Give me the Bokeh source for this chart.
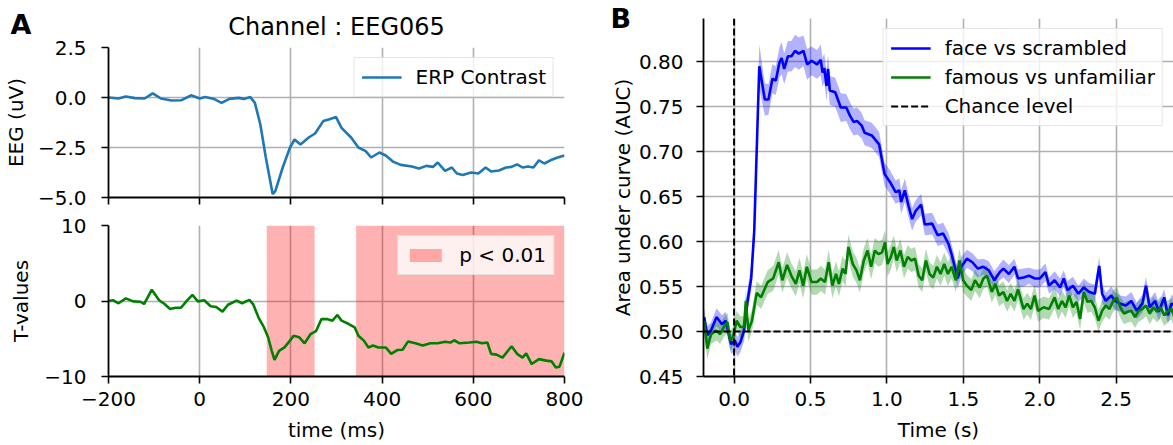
from bokeh.plotting import figure
from bokeh.layouts import row, column
from bokeh.models import (FixedTicker, CustomJSTickFormatter, Legend, LegendItem,
                          Label, Span, CustomLabelingPolicy)
from bokeh.embed import file_html
from bokeh.resources import INLINE

FONT = "DejaVu Sans"

# ---------------- Panel A data ----------------
erp_time = [-200, -178, -162, -142, -121, -103, -85, -62, -41, -19,
            0, 12, 32, 48, 65, 85, 97, 111, 121, 133,
            145, 160, 166, 182, 198, 208, 221, 239, 253, 271,
            283, 299, 311, 332, 348, 364, 376, 394, 408, 425,
            441, 465, 481, 497, 512, 522, 538, 553, 564, 577,
            595, 611, 627, 639, 656, 672, 684, 696, 708, 720,
            732, 744, 756, 769, 785, 800]
erp_values = [0.00, -0.05, 0.05, -0.03, -0.05, 0.21, -0.05, -0.15, -0.14, 0.11,
              -0.05, 0.02, -0.08, -0.27, -0.07, -0.02, -0.07, 0.02, -0.27, -1.35,
              -3.00, -4.83, -4.67, -3.50, -2.50, -2.10, -2.35, -2.00, -1.80, -1.18,
              -1.10, -0.98, -1.52, -2.00, -2.50, -2.68, -3.00, -2.75, -2.90, -3.22,
              -3.37, -3.45, -3.55, -3.42, -3.47, -3.25, -3.67, -3.50, -3.80, -3.87,
              -3.75, -3.80, -3.50, -3.70, -3.65, -3.50, -3.47, -3.34, -3.50, -3.45,
              -3.50, -3.14, -3.30, -3.14, -3.00, -2.90]

tval_time = [-200, -190, -178, -162, -146, -130, -122, -105, -89, -77,
             -65, -53, -41, -28, -16, -4, 10, 24, 36, 50,
             62, 81, 93, 109, 117, 129, 141, 150, 158, 164,
             174, 186, 198, 206, 218, 230, 243, 255, 267, 279,
             291, 302, 311, 327, 340, 348, 360, 370, 380, 392,
             408, 420, 433, 445, 457, 473, 489, 506, 522, 538,
             550, 558, 570, 591, 607, 619, 631, 639, 651, 664,
             684, 696, 708, 716, 728, 744, 760, 772, 781, 789,
             800]
tval_values = [0.0, 0.1, -0.3, 0.35, -0.05, -0.1, -0.4, 1.5, 0.1, -0.4,
               -1.05, -0.9, -0.9, 0.05, 0.8, -0.05, 0.1, -0.7, -0.8, -1.4,
               -0.5, 0.05, -0.3, 0.15, -0.4, -2.2, -3.5, -4.8, -6.6, -7.8,
               -6.6, -6.15, -5.25, -4.6, -4.8, -5.6, -4.4, -4.0, -2.4, -2.4,
               -2.6, -1.85, -2.6, -3.05, -3.5, -4.6, -5.25, -6.15, -5.9, -6.15,
               -6.15, -7.0, -6.5, -6.45, -5.35, -5.6, -5.9, -5.6, -5.6, -5.4,
               -5.5, -5.2, -5.6, -5.5, -5.4, -5.6, -5.5, -7.0, -7.1, -7.5,
               -6.0, -7.0, -7.5, -6.95, -8.35, -7.7, -7.9, -8.0, -8.8, -8.7,
               -6.85]

sig_starts = [147, 343]
sig_ends = [252, 800]

erp_xticks = [-200, 0, 200, 400, 600, 800]
erp_yticks = [-5.0, -2.5, 0.0, 2.5]
tval_yticks = [-10, 0, 10]
erp_xrange = (-200, 800)
erp_yrange = (-5.0, 2.5)
tval_yrange = (-10, 10)

# ---------------- Panel B data ----------------
face_time = [-0.196, -0.175, -0.151, -0.115, -0.079, -0.055, -0.019, 0.005, 0.022, 0.041,
             0.065, 0.088, 0.112, 0.132, 0.165, 0.201, 0.225, 0.251, 0.273, 0.297,
             0.311, 0.328, 0.352, 0.375, 0.399, 0.423, 0.454, 0.478, 0.507, 0.543,
             0.567, 0.579, 0.590, 0.605, 0.615, 0.626, 0.662, 0.698, 0.734, 0.758,
             0.782, 0.806, 0.835, 0.854, 0.901, 0.949, 0.985, 1.021, 1.057, 1.081,
             1.093, 1.117, 1.141, 1.165, 1.188, 1.224, 1.248, 1.296, 1.332, 1.368,
             1.404, 1.423, 1.440, 1.463, 1.487, 1.523, 1.559, 1.595, 1.631, 1.667,
             1.703, 1.738, 1.762, 1.798, 1.834, 1.858, 1.894, 1.930, 1.966, 2.001,
             2.037, 2.061, 2.097, 2.133, 2.157, 2.181, 2.217, 2.253, 2.288, 2.324,
             2.360, 2.389, 2.408, 2.432, 2.468, 2.492, 2.527, 2.563, 2.599, 2.635,
             2.671, 2.695, 2.719, 2.755, 2.779, 2.814, 2.838, 2.862, 2.881]
face_auc = [0.516, 0.496, 0.501, 0.516, 0.508, 0.512, 0.486, 0.490, 0.483, 0.488,
            0.501, 0.534, 0.559, 0.612, 0.795, 0.758, 0.758, 0.781, 0.779, 0.799,
            0.804, 0.792, 0.806, 0.806, 0.812, 0.809, 0.812, 0.797, 0.801, 0.797,
            0.802, 0.788, 0.793, 0.773, 0.792, 0.768, 0.766, 0.749, 0.749, 0.740,
            0.733, 0.734, 0.729, 0.721, 0.718, 0.708, 0.675, 0.666, 0.655, 0.657,
            0.644, 0.657, 0.640, 0.625, 0.634, 0.641, 0.619, 0.620, 0.607, 0.609,
            0.597, 0.586, 0.575, 0.559, 0.572, 0.581, 0.577, 0.570, 0.572, 0.568,
            0.557, 0.566, 0.570, 0.564, 0.572, 0.559, 0.560, 0.562, 0.559, 0.559,
            0.566, 0.551, 0.557, 0.549, 0.559, 0.546, 0.551, 0.542, 0.549, 0.544,
            0.542, 0.573, 0.542, 0.534, 0.540, 0.534, 0.531, 0.529, 0.534, 0.523,
            0.531, 0.551, 0.527, 0.534, 0.522, 0.538, 0.518, 0.531, 0.529]
face_err = [0.010, 0.010, 0.009, 0.010, 0.010, 0.010, 0.011, 0.011, 0.011, 0.011,
            0.012, 0.013, 0.014, 0.016, 0.024, 0.018, 0.017, 0.016, 0.016, 0.017,
            0.018, 0.017, 0.017, 0.017, 0.018, 0.018, 0.017, 0.017, 0.016, 0.016,
            0.017, 0.016, 0.016, 0.017, 0.016, 0.016, 0.016, 0.016, 0.015, 0.015,
            0.015, 0.015, 0.014, 0.014, 0.014, 0.014, 0.013, 0.013, 0.013, 0.013,
            0.013, 0.013, 0.013, 0.013, 0.012, 0.012, 0.012, 0.012, 0.012, 0.012,
            0.012, 0.011, 0.011, 0.011, 0.011, 0.010, 0.010, 0.010, 0.009, 0.010,
            0.010, 0.009, 0.010, 0.010, 0.009, 0.010, 0.010, 0.009, 0.010, 0.010,
            0.010, 0.009, 0.010, 0.010, 0.009, 0.010, 0.010, 0.009, 0.010, 0.010,
            0.010, 0.010, 0.010, 0.009, 0.010, 0.010, 0.009, 0.010, 0.010, 0.009,
            0.010, 0.010, 0.009, 0.010, 0.010, 0.009, 0.010, 0.010, 0.009]

famous_time = [-0.196, -0.175, -0.151, -0.115, -0.091, -0.067, -0.043, -0.026, -0.007, 0.017,
               0.041, 0.065, 0.077, 0.093, 0.117, 0.148, 0.177, 0.220, 0.256, 0.292,
               0.316, 0.347, 0.375, 0.404, 0.428, 0.452, 0.476, 0.507, 0.543, 0.567,
               0.595, 0.619, 0.643, 0.667, 0.686, 0.710, 0.729, 0.748, 0.777, 0.801,
               0.823, 0.849, 0.873, 0.897, 0.921, 0.945, 0.968, 0.988, 1.004, 1.026,
               1.045, 1.064, 1.088, 1.112, 1.136, 1.160, 1.184, 1.208, 1.231, 1.255,
               1.279, 1.303, 1.327, 1.351, 1.375, 1.399, 1.423, 1.451, 1.475, 1.499,
               1.523, 1.552, 1.576, 1.607, 1.631, 1.655, 1.686, 1.710, 1.734, 1.762,
               1.786, 1.810, 1.834, 1.858, 1.894, 1.918, 1.942, 1.966, 1.989, 2.025,
               2.061, 2.097, 2.121, 2.145, 2.169, 2.193, 2.217, 2.240, 2.264, 2.288,
               2.312, 2.336, 2.360, 2.384, 2.408, 2.432, 2.456, 2.480, 2.504, 2.527,
               2.551, 2.575, 2.599, 2.623, 2.647, 2.671, 2.695, 2.719, 2.743, 2.767,
               2.791, 2.814, 2.838, 2.862, 2.881]
famous_auc = [0.512, 0.481, 0.497, 0.501, 0.497, 0.505, 0.510, 0.490, 0.494, 0.512,
              0.505, 0.505, 0.534, 0.501, 0.512, 0.543, 0.538, 0.555, 0.559, 0.577,
              0.557, 0.574, 0.562, 0.553, 0.568, 0.551, 0.572, 0.555, 0.555, 0.559,
              0.555, 0.577, 0.551, 0.564, 0.553, 0.570, 0.564, 0.594, 0.575, 0.568,
              0.557, 0.579, 0.590, 0.572, 0.590, 0.586, 0.588, 0.599, 0.575, 0.583,
              0.594, 0.579, 0.590, 0.572, 0.583, 0.579, 0.581, 0.562, 0.557, 0.579,
              0.564, 0.560, 0.572, 0.564, 0.575, 0.564, 0.572, 0.557, 0.579, 0.557,
              0.551, 0.546, 0.557, 0.549, 0.559, 0.562, 0.544, 0.553, 0.540, 0.544,
              0.534, 0.542, 0.534, 0.547, 0.525, 0.531, 0.525, 0.540, 0.523, 0.527,
              0.525, 0.538, 0.525, 0.534, 0.527, 0.540, 0.527, 0.533, 0.514, 0.544,
              0.533, 0.534, 0.527, 0.512, 0.523, 0.529, 0.525, 0.534, 0.538, 0.527,
              0.520, 0.522, 0.523, 0.516, 0.523, 0.525, 0.529, 0.520, 0.527, 0.522,
              0.527, 0.518, 0.523, 0.525, 0.516]
famous_err = [0.012, 0.012, 0.011, 0.011, 0.011, 0.011, 0.011, 0.011, 0.011, 0.011,
              0.012, 0.012, 0.013, 0.012, 0.012, 0.013, 0.013, 0.013, 0.014, 0.014,
              0.014, 0.014, 0.014, 0.014, 0.014, 0.014, 0.014, 0.014, 0.014, 0.014,
              0.014, 0.014, 0.014, 0.014, 0.014, 0.014, 0.014, 0.014, 0.014, 0.014,
              0.014, 0.014, 0.014, 0.014, 0.014, 0.014, 0.014, 0.014, 0.014, 0.014,
              0.013, 0.013, 0.013, 0.013, 0.013, 0.013, 0.013, 0.013, 0.013, 0.013,
              0.013, 0.013, 0.013, 0.013, 0.013, 0.013, 0.013, 0.013, 0.013, 0.013,
              0.012, 0.012, 0.012, 0.012, 0.012, 0.012, 0.012, 0.012, 0.012, 0.012,
              0.012, 0.012, 0.012, 0.012, 0.012, 0.012, 0.012, 0.012, 0.012, 0.012,
              0.012, 0.012, 0.012, 0.012, 0.012, 0.012, 0.012, 0.012, 0.012, 0.012,
              0.012, 0.012, 0.012, 0.012, 0.012, 0.012, 0.012, 0.012, 0.012, 0.012,
              0.012, 0.012, 0.012, 0.012, 0.012, 0.012, 0.012, 0.012, 0.012, 0.012,
              0.012, 0.012, 0.012, 0.012, 0.012]

chance_level = 0.5
stim_onset = 0.0
auc_xticks = [0.0, 0.5, 1.0, 1.5, 2.0, 2.5]
auc_yticks = [0.45, 0.50, 0.55, 0.60, 0.65, 0.70, 0.75, 0.80]
auc_xrange = (-0.2, 2.875)
auc_yrange = (0.45, 0.848)

assert len(face_time) == len(face_auc) == len(face_err)
assert len(famous_time) == len(famous_auc) == len(famous_err)

GRID = "#b0b0b0"


def fmt(decimals):
    return CustomJSTickFormatter(
        code="return tick.toFixed(%d).replace('-', '\u2212');" % decimals)


def style(p, xticks, yticks, xdec, ydec, xstand=8, ystand=15):
    p.outline_line_color = None
    p.background_fill_color = "white"
    p.border_fill_color = "white"
    xt = FixedTicker(ticks=xticks)
    yt = FixedTicker(ticks=yticks)
    p.xaxis.ticker = xt
    p.xgrid.ticker = xt
    p.yaxis.ticker = yt
    p.ygrid.ticker = yt
    p.xaxis.formatter = fmt(xdec)
    p.yaxis.formatter = fmt(ydec)
    for g in (p.xgrid, p.ygrid):
        g.grid_line_color = GRID
        g.grid_line_width = 1.6
    for ax in (p.xaxis, p.yaxis):
        ax.axis_line_color = "black"
        ax.axis_line_width = 1.8
        ax.major_tick_line_color = "black"
        ax.major_tick_line_width = 1.6
        ax.major_tick_out = 7
        ax.major_tick_in = 0
        ax.minor_tick_line_color = None
        ax.major_label_text_font = FONT
        ax.major_label_text_font_size = "20px"
        ax.major_label_text_color = "black"
        ax.axis_label_text_font = FONT
        ax.axis_label_text_font_size = "20px"
        ax.axis_label_text_font_style = "normal"
        ax.axis_label_text_color = "black"
    p.xaxis.major_label_standoff = xstand
    p.yaxis.major_label_standoff = ystand


def style_legend(leg):
    leg.label_text_font = FONT
    leg.label_text_font_size = "20px"
    leg.label_text_color = "black"
    leg.border_line_color = "#cccccc"
    leg.border_line_width = 1.5
    leg.background_fill_color = "white"
    leg.background_fill_alpha = 0.8
    leg.glyph_width = 40
    leg.glyph_height = 20
    leg.label_standoff = 14
    leg.padding = 7
    leg.spacing = 5
    leg.margin = 10
    leg.location = "top_right"


def panel_letter(text, x, y):
    # placed in a side panel (not clipped to the frame), positioned in canvas px
    return Label(x=x, y=y, x_units="canvas", y_units="canvas", text=text,
                 text_font=FONT, text_font_size="27px", text_font_style="bold",
                 text_color="black", text_baseline="top", text_align="left")


A_RIGHT = 22
A_WIDTH = 106 + 458 + A_RIGHT
B_LEFT = 702 - A_WIDTH
B_WIDTH = 1173 - A_WIDTH

# ---------------- Panel A top ----------------
p1 = figure(width=A_WIDTH, height=211, min_border_left=106, min_border_right=A_RIGHT,
            min_border_top=47, min_border_bottom=14,
            x_range=erp_xrange, y_range=erp_yrange,
            output_backend="svg", toolbar_location=None)
style(p1, erp_xticks, erp_yticks, 0, 1, xstand=5)
p1.xaxis.major_label_text_font_size = "0px"
p1.xaxis.major_label_policy = CustomLabelingPolicy(
    code="for (const i of indices) indices.unset(i)")
p1.yaxis.axis_label = "EEG (uV)"
p1.yaxis.axis_label_standoff = 7
p1.title.text = "Channel : EEG065"
p1.title.align = "center"
p1.title.text_font = FONT
p1.title.text_font_size = "24px"
p1.title.text_font_style = "normal"
p1.title.text_color = "black"
p1.title.standoff = 14
r_erp = p1.line(erp_time, erp_values, line_color="#1f77b4", line_width=2.6)
leg1 = Legend(items=[LegendItem(label="ERP Contrast", renderers=[r_erp])])
style_legend(leg1)
p1.add_layout(leg1, "center")
p1.add_layout(panel_letter("A", 10, 8), "right")

# ---------------- Panel A bottom ----------------
p2 = figure(width=A_WIDTH, height=234, min_border_left=106, min_border_right=A_RIGHT,
            min_border_top=14, min_border_bottom=69,
            x_range=erp_xrange, y_range=tval_yrange,
            output_backend="svg", toolbar_location=None)
style(p2, erp_xticks, tval_yticks, 0, 0)
p2.xaxis.axis_label = "time (ms)"
p2.xaxis.axis_label_standoff = 9
p2.yaxis.axis_label = "T-values"
p2.yaxis.axis_label_standoff = 8
r_sig = p2.quad(left=sig_starts, right=sig_ends,
                bottom=tval_yrange[0], top=tval_yrange[1],
                fill_color="red", fill_alpha=0.3, line_color=None)
p2.line(tval_time, tval_values, line_color="green", line_width=2.6)
leg2 = Legend(items=[LegendItem(label="p < 0.01", renderers=[r_sig])])
style_legend(leg2)
leg2.glyph_height = 16
p2.add_layout(leg2, "center")

# ---------------- Panel B ----------------
pb = figure(width=B_WIDTH, height=445, min_border_left=B_LEFT, min_border_right=0,
            min_border_top=18, min_border_bottom=69,
            x_range=auc_xrange, y_range=auc_yrange,
            output_backend="svg", toolbar_location=None)
style(pb, auc_xticks, auc_yticks, 1, 2, ystand=13)
pb.xaxis.axis_label = "Time (s)"
pb.xaxis.axis_label_standoff = 9
pb.yaxis.axis_label = "Area under curve (AUC)"
pb.yaxis.axis_label_standoff = 1

face_lo = [a - e for a, e in zip(face_auc, face_err)]
face_hi = [a + e for a, e in zip(face_auc, face_err)]
fam_lo = [a - e for a, e in zip(famous_auc, famous_err)]
fam_hi = [a + e for a, e in zip(famous_auc, famous_err)]

pb.varea(x=face_time, y1=face_lo, y2=face_hi, fill_color="blue", fill_alpha=0.3)
pb.varea(x=famous_time, y1=fam_lo, y2=fam_hi, fill_color="green", fill_alpha=0.3)
r_face = pb.line(face_time, face_auc, line_color="blue", line_width=2.6)
r_fam = pb.line(famous_time, famous_auc, line_color="green", line_width=2.6)

r_chance = pb.line(x=list(auc_xrange), y=[chance_level, chance_level],
                   line_color="black", line_dash="7 3", line_width=2)
pb.add_layout(Span(location=stim_onset, dimension="height", line_color="black",
                   line_dash="7 3", line_width=2))

legb = Legend(items=[LegendItem(label="face vs scrambled", renderers=[r_face]),
                     LegendItem(label="famous vs unfamiliar", renderers=[r_fam]),
                     LegendItem(label="Chance level", renderers=[r_chance])])
style_legend(legb)
legb.margin = 10
pb.add_layout(legb, "center")
pb.add_layout(panel_letter("B", 610 - A_WIDTH, 2), "left")

layout = row(column(p1, p2), pb)
open("out.html", "w").write(file_html(layout, INLINE))
